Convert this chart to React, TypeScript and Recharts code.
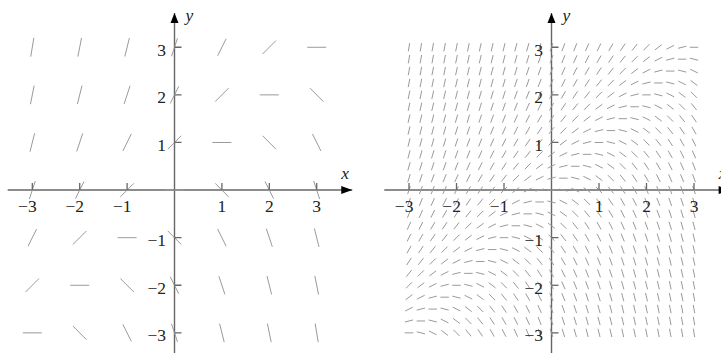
import React from 'react';
import { ScatterChart, Scatter, XAxis, YAxis, ReferenceLine, ReferenceDot } from 'recharts';

// grid positions of the direction field (left: coarse, right: dense)
const LEFT_STEPS = [-3, -2, -1, 0, 1, 2, 3];
const RIGHT_STEPS = [
  -3, -2.75, -2.5, -2.25, -2, -1.75, -1.5, -1.25, -1, -0.75, -0.5, -0.25, 0,
  0.25, 0.5, 0.75, 1, 1.25, 1.5, 1.75, 2, 2.25, 2.5, 2.75, 3,
];
const TICK_VALUES = [-3, -2, -1, 1, 2, 3];
const TICK_LABELS = ['−3', '−2', '−1', '1', '2', '3'];

// the differential equation dy/dx = y - x
const dydx = (x: number, y: number) => y - x;

const X_MIN = -3.52;
const X_MAX = 3.75;
const Y_MIN = -3.45;
const Y_MAX = 3.72;
const UNIT_Y = 47.6;
const TOP = 13;
const CW = 360;
const CH = 360;

const AXIS = '#666';
const FIELD = '#9a9a9a';

type PanelProps = { left: number; originX: number; unitX: number; steps: number[]; segLen: number };

function Panel({ left, originX, unitX, steps, segLen }: PanelProps) {
  const points = steps.flatMap((x) => steps.map((y) => ({ x, y, m: dydx(x, y) })));
  const xTicks = TICK_VALUES.map((v, i) => ({ x: v, y: 0, label: TICK_LABELS[i] }));
  const yTicks = TICK_VALUES.map((v, i) => ({ x: 0, y: v, label: TICK_LABELS[i] }));

  const mLeft = originX - left + X_MIN * unitX;
  const plotW = (X_MAX - X_MIN) * unitX;
  const mRight = CW - mLeft - plotW;
  const plotH = (Y_MAX - Y_MIN) * UNIT_Y;
  const mBottom = CH - TOP - plotH;

  const segment = (p: any) => {
    const vx = unitX;
    const vy = -p.payload.m * UNIT_Y;
    const n = Math.hypot(vx, vy);
    const hx = (vx / n) * segLen / 2;
    const hy = (vy / n) * segLen / 2;
    return <line x1={p.cx - hx} y1={p.cy - hy} x2={p.cx + hx} y2={p.cy + hy} stroke={FIELD} strokeWidth={1} />;
  };

  const xTick = (p: any) => (
    <g>
      <line x1={p.cx} y1={p.cy} x2={p.cx} y2={p.cy - 7} stroke={AXIS} strokeWidth={1.3} />
      <text x={p.cx + 4.4} y={p.cy + 22} textAnchor="end" fill="#222" style={{ fontFamily: 'Liberation Serif', fontSize: 17.5 }}>
        {p.payload.label}
      </text>
    </g>
  );

  const yTick = (p: any) => (
    <g>
      <line x1={p.cx} y1={p.cy} x2={p.cx + 7} y2={p.cy} stroke={AXIS} strokeWidth={1.3} />
      <text x={p.cx - 8.5} y={p.cy + 8.5} textAnchor="end" fill="#222" style={{ fontFamily: 'Liberation Serif', fontSize: 17.5 }}>
        {p.payload.label}
      </text>
    </g>
  );

  return (
    <div style={{ position: 'absolute', left, top: 0 }}>
      <ScatterChart width={CW} height={CH} margin={{ top: TOP, right: mRight, bottom: mBottom, left: mLeft }}>
        <XAxis type="number" dataKey="x" domain={[X_MIN, X_MAX]} hide allowDataOverflow />
        <YAxis type="number" dataKey="y" domain={[Y_MIN, Y_MAX]} hide allowDataOverflow />
        <Scatter data={points} shape={segment} isAnimationActive={false} />
        <ReferenceLine y={0} stroke={AXIS} strokeWidth={1.4} />
        <ReferenceLine x={0} stroke={AXIS} strokeWidth={1.4} />
        <Scatter data={xTicks} shape={xTick} isAnimationActive={false} />
        <Scatter data={yTicks} shape={yTick} isAnimationActive={false} />
        <ReferenceDot
          x={X_MAX}
          y={0}
          ifOverflow="visible"
          shape={(p: any) => (
            <g>
              <path d={`M${p.cx},${p.cy} L${p.cx - 11},${p.cy - 4} L${p.cx - 11},${p.cy + 4} Z`} fill="#000" />
              <text x={p.cx - 7} y={p.cy - 11} textAnchor="middle" fill="#222" style={{ fontFamily: 'Liberation Serif', fontSize: 17.5, fontStyle: 'italic' }}>
                x
              </text>
            </g>
          )}
        />
        <ReferenceDot
          x={0}
          y={Y_MAX}
          ifOverflow="visible"
          shape={(p: any) => (
            <g>
              <path d={`M${p.cx},${p.cy} L${p.cx - 4},${p.cy + 10} L${p.cx + 4},${p.cy + 10} Z`} fill="#000" />
              <text x={p.cx + 15} y={p.cy + 8} textAnchor="middle" fill="#222" style={{ fontFamily: 'Liberation Serif', fontSize: 17.5, fontStyle: 'italic' }}>
                y
              </text>
            </g>
          )}
        />
      </ScatterChart>
    </div>
  );
}

export default function App() {
  return (
    <div style={{ position: 'absolute', left: 0, top: 0, width: 721, height: 353, overflow: 'hidden', background: '#fff' }}>
      <Panel left={0} originX={174.5} unitX={47.4} steps={LEFT_STEPS} segLen={19} />
      <Panel left={380} originX={551.5} unitX={47.5} steps={RIGHT_STEPS} segLen={8.5} />
    </div>
  );
}
